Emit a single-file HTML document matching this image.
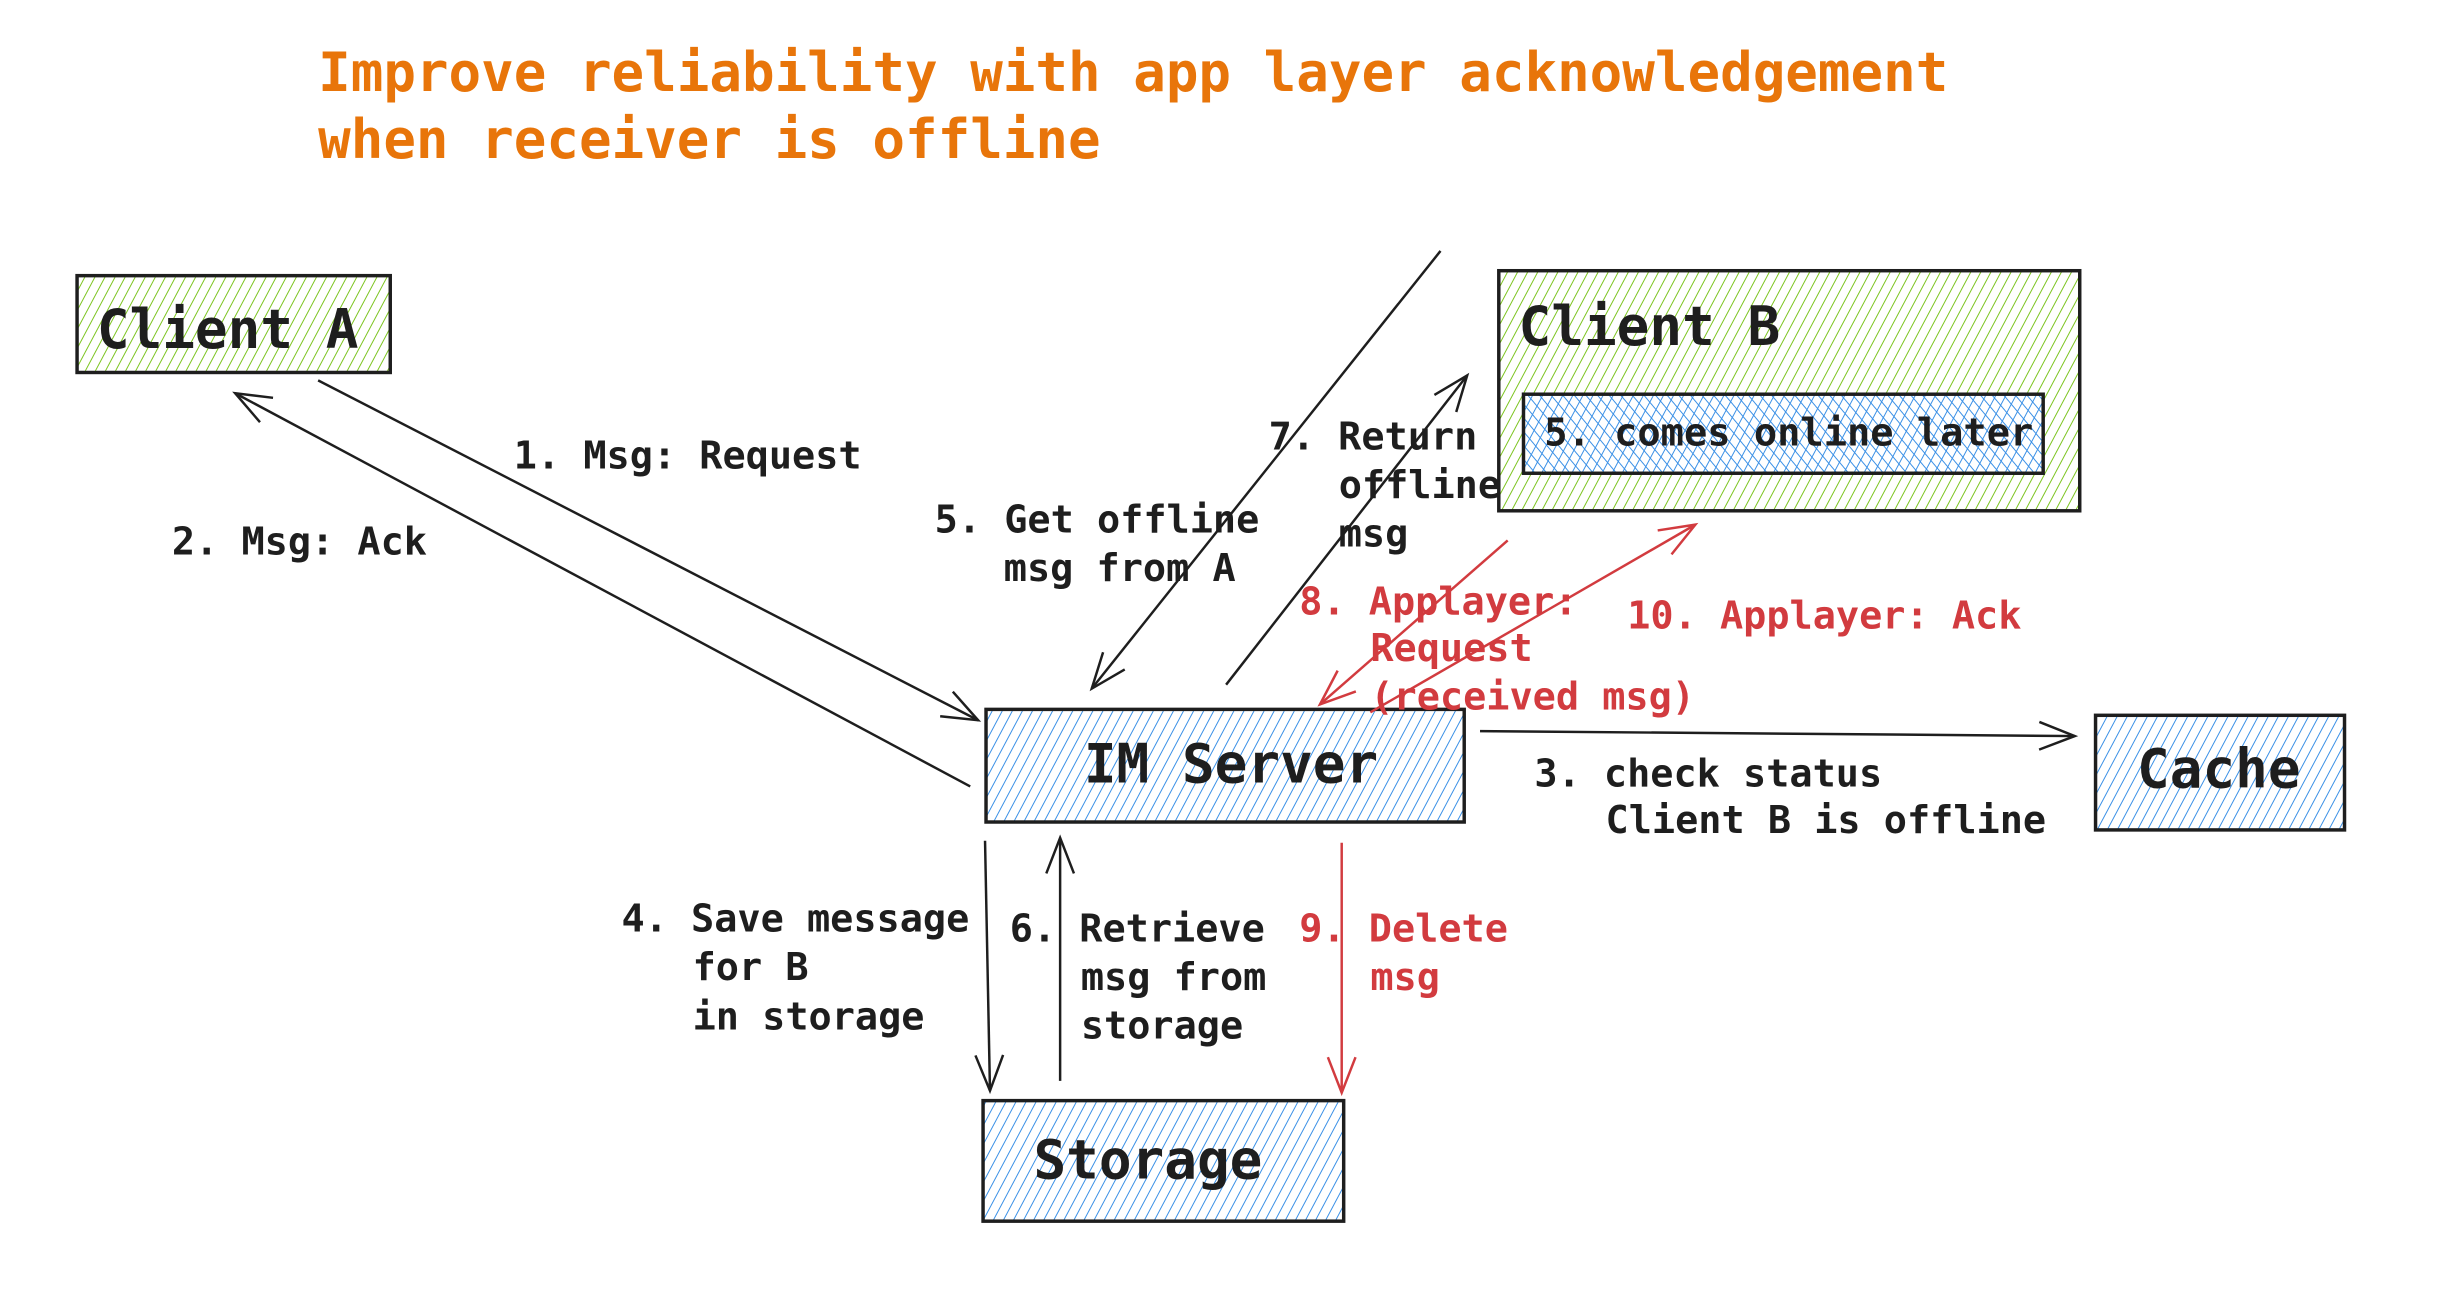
<!DOCTYPE html>
<html><head><meta charset="utf-8"><style>
html,body{margin:0;padding:0;background:#fff;}
svg{display:block;}
text{font-family:"DejaVu Sans Mono","Liberation Mono",monospace;}
</style></head><body>
<svg width="2456" height="1304" viewBox="0 0 2456 1304" xmlns="http://www.w3.org/2000/svg">
<defs>
<pattern id="g" patternUnits="userSpaceOnUse" width="9" height="9" patternTransform="rotate(28)">
<line x1="0" y1="0" x2="0" y2="9" stroke="#7cc420" stroke-width="2"/></pattern>
<pattern id="b" patternUnits="userSpaceOnUse" width="9" height="9" patternTransform="rotate(28)">
<line x1="0" y1="0" x2="0" y2="9" stroke="#3a90e6" stroke-width="2"/></pattern>
<pattern id="b2" patternUnits="userSpaceOnUse" width="9" height="9" patternTransform="rotate(-40)">
<line x1="0" y1="0" x2="0" y2="9" stroke="#3a90e6" stroke-width="2"/></pattern>
<marker id="ak" markerUnits="userSpaceOnUse" markerWidth="50" markerHeight="40" refX="38" refY="16" orient="auto">
<path d="M2,2 L38,16 L2,30" fill="none" stroke="#1e1e1e" stroke-width="2.5"/></marker>
<marker id="ar" markerUnits="userSpaceOnUse" markerWidth="50" markerHeight="40" refX="38" refY="16" orient="auto">
<path d="M2,2 L38,16 L2,30" fill="none" stroke="#d23b3f" stroke-width="2.5"/></marker>
</defs>
<g transform="scale(0.988)">
<text x="322" y="92" font-size="55" fill="#e8750a" font-weight="bold" textLength="1650" lengthAdjust="spacingAndGlyphs">Improve reliability with app layer acknowledgement</text>
<text x="322" y="160" font-size="55" fill="#e8750a" font-weight="bold" textLength="792" lengthAdjust="spacingAndGlyphs">when receiver is offline</text>

<rect x="78" y="279" width="317" height="98" fill="url(#g)" stroke="#1e1e1e" stroke-width="3.5"/>
<text x="98" y="352" font-size="55" fill="#1e1e1e" font-weight="bold">Client A</text>

<rect x="1517" y="274" width="588" height="243" fill="url(#g)" stroke="#1e1e1e" stroke-width="3.5"/>
<text x="1537" y="349" font-size="55" fill="#1e1e1e" font-weight="bold">Client B</text>
<rect x="1542" y="399" width="526" height="80" fill="#fff" stroke="none"/>
<rect x="1542" y="399" width="526" height="80" fill="url(#b)"/>
<rect x="1542" y="399" width="526" height="80" fill="url(#b2)" stroke="#1e1e1e" stroke-width="3.5"/>
<text x="1563" y="451" font-size="39" fill="#1e1e1e" font-weight="bold" textLength="495" lengthAdjust="spacingAndGlyphs">5. comes online later</text>

<rect x="998" y="718" width="484" height="114" fill="url(#b)" stroke="#1e1e1e" stroke-width="3.5"/>
<text x="1097" y="792" font-size="55" fill="#1e1e1e" font-weight="bold">IM Server</text>

<rect x="2121" y="724" width="252" height="116" fill="url(#b)" stroke="#1e1e1e" stroke-width="3.5"/>
<text x="2163" y="797" font-size="55" fill="#1e1e1e" font-weight="bold">Cache</text>

<rect x="995" y="1114" width="365" height="122" fill="url(#b)" stroke="#1e1e1e" stroke-width="3.5"/>
<text x="1046" y="1193" font-size="55" fill="#1e1e1e" font-weight="bold">Storage</text>

<g fill="none" stroke-width="2.5">
<line x1="322" y1="385" x2="990" y2="729" stroke="#1e1e1e" marker-end="url(#ak)"/>
<line x1="982" y1="796" x2="238" y2="398" stroke="#1e1e1e" marker-end="url(#ak)"/>
<line x1="1458" y1="254" x2="1105" y2="697" stroke="#1e1e1e" marker-end="url(#ak)"/>
<line x1="1241" y1="693" x2="1485" y2="380" stroke="#1e1e1e" marker-end="url(#ak)"/>
<line x1="1526" y1="547" x2="1336" y2="713" stroke="#d23b3f" marker-end="url(#ar)"/>
<line x1="1387" y1="721" x2="1716" y2="531" stroke="#d23b3f" marker-end="url(#ar)"/>
<line x1="1498" y1="740" x2="2100" y2="745" stroke="#1e1e1e" marker-end="url(#ak)"/>
<line x1="997" y1="851" x2="1002" y2="1104" stroke="#1e1e1e" marker-end="url(#ak)"/>
<line x1="1073" y1="1094" x2="1073" y2="848" stroke="#1e1e1e" marker-end="url(#ak)"/>
<line x1="1358" y1="853" x2="1358" y2="1106" stroke="#d23b3f" marker-end="url(#ar)"/>
</g>

<g font-size="39" fill="#1e1e1e" font-weight="bold">
<text x="520" y="474">1. Msg: Request</text>
<text x="174" y="561">2. Msg: Ack</text>
<text x="946" y="539">5. Get offline</text>
<text x="1016" y="588">msg from A</text>
<text x="1284" y="455">7. Return</text>
<text x="1355" y="504">offline</text>
<text x="1355" y="553">msg</text>
<text x="1553" y="796">3. check status</text>
<text x="1625" y="843">Client B is offline</text>
<text x="629" y="943">4. Save message</text>
<text x="701" y="992">for B</text>
<text x="701" y="1042">in storage</text>
<text x="1022" y="953">6. Retrieve</text>
<text x="1094" y="1002">msg from</text>
<text x="1094" y="1051">storage</text>
</g>
<g font-size="39" fill="#d23b3f" font-weight="bold">
<text x="1315" y="622">8. Applayer:</text>
<text x="1387" y="669">Request</text>
<text x="1387" y="718">(received msg)</text>
<text x="1647" y="636">10. Applayer: Ack</text>
<text x="1315" y="953">9. Delete</text>
<text x="1387" y="1002">msg</text>
</g>
</g>
</svg>
</body></html>
